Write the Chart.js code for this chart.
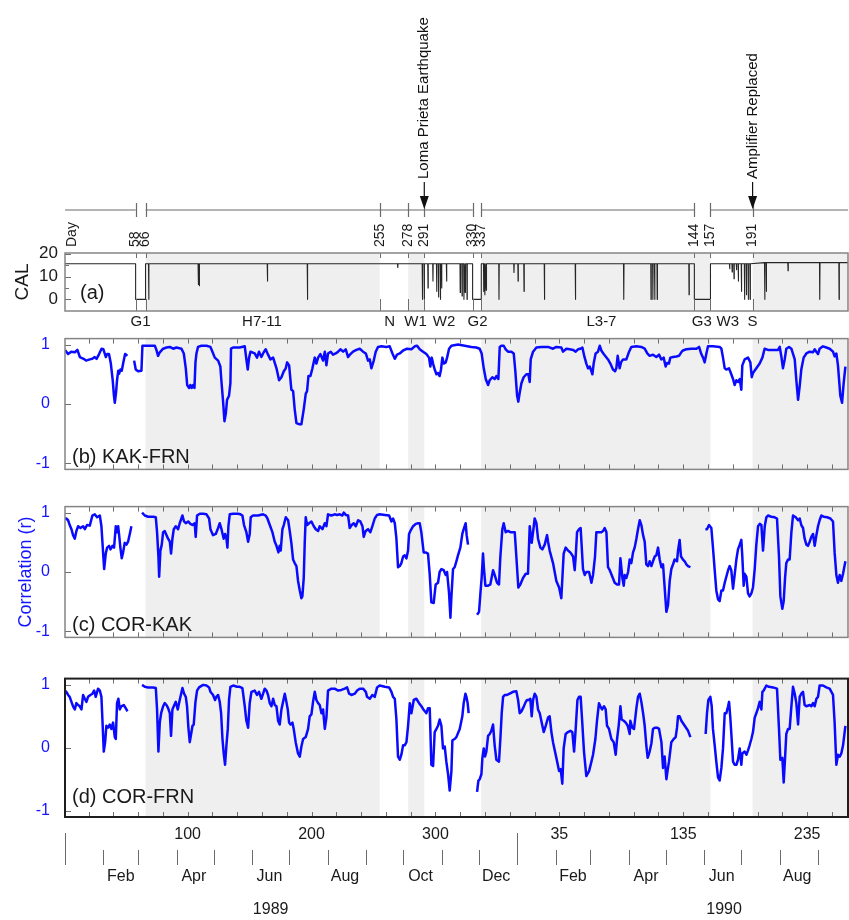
<!DOCTYPE html>
<html>
<head>
<meta charset="utf-8">
<title>Station correlation 1989-1990</title>
<script src="https://cdn.jsdelivr.net/npm/chart.js@4.4.1/dist/chart.umd.min.js"></script>
<style>
  html, body { margin: 0; padding: 0; background: #fff; }
  #wrap { position: relative; width: 849px; height: 920px; overflow: hidden; }
  #wrap canvas { position: absolute; left: 0; }
</style>
</head>
<body>
<div id="wrap">
  <canvas id="calChart" width="849" height="340" style="top:0"></canvas>
  <canvas id="kfChart" width="849" height="180" style="top:314px"></canvas>
  <canvas id="ckChart" width="849" height="180" style="top:482px"></canvas>
  <canvas id="cfChart" width="849" height="266" style="top:654px"></canvas>
</div>
<script>
// days are counted from 1 Jan 1989 (1990 day d = 365 + d)

/* ---------------- DATA ---------------- */
const markerDays = [58, 66, 255, 278, 291, 330, 337, 509, 522, 556];
const markerLabels = ["58", "66", "255", "278", "291", "330", "337", "144", "157", "191"];
const timelineSegs = [[1, 58], [66, 330], [337, 509], [522, 633]];
const eventDays = [291, 556];
const eventLabels = ["Loma Prieta Earthquake", "Amplifier Replaced"];
const groupDays = [62, 160, 263, 284, 307, 334, 434, 515, 536, 556];
const groupLabels = ["G1", "H7-11", "N", "W1", "W2", "G2", "L3-7", "G3", "W3", "S"];
const shadeRanges = [[66, 255], [278, 291], [337, 522], [556, 633]];

const dayTickDays = [100, 200, 300, 400, 500, 600];
const dayTickLabels = ["100", "200", "300", "35", "135", "235"];
const yearStarts = [1, 366];
const monthStarts = [32, 60, 91, 121, 152, 182, 213, 244, 274, 305, 335, 397, 425, 456, 486, 517, 547, 578, 609];
const monthLabelDays = [46, 105, 166, 227, 288, 349, 411, 470, 531, 592];
const monthLabels = ["Feb", "Apr", "Jun", "Aug", "Oct", "Dec", "Feb", "Apr", "Jun", "Aug"];
const yearLabelDays = [167, 533];
const yearLabels = ["1989", "1990"];

const calTicks = [0, 10, 20];
const corrTicks = [-1, 0, 1];

// CAL: flat level, dropouts to zero during gaps, and short downward spikes [day, min]
const calLevel = 15.6;
const calLevelAfterS = 16.1;
const calGaps = [[58, 66], [330, 337], [509, 522]];
const calSpikes = [[68.6,0],[108.6,6.5],[109.4,6],[164.4,8],[196.7,0],[269.6,14],[289.5,0],[291,0],
  [294,5],[298,8],[301,3.5],[302.5,1],[304,0],[305,5],[309,8],[320,3],[321.5,1.5],[323,0],[324,3],
  [325.5,0],[339,3.5],[340,2],[341,4],[351.3,0],[363.4,11.8],[366.7,8],[371.5,3.5],[388,0],[413,0],
  [452,0],[474,0],[475.5,0],[477,0],[479,0],[504.7,2],[537.5,13.4],[539.5,12],[541,9],[543,13],
  [544.5,8],[547,3.5],[549.5,0],[551,2],[552.5,0],[554,0],[565.8,0],[567.1,3.5],[584.6,12.5],
  [610.2,0],[625.8,0]];

// (b) KAK-FRN correlation [day, r]
const kakFrn = [[1,0.91],[3.5,0.84],[6,0.88],[9,0.87],[11,0.91],[13,0.79],[16,0.76],[18,0.73],[21,0.75],
  [23,0.76],[25,0.79],[26.5,0.76],[28.5,0.84],[30.5,0.93],[32,0.92],[34,0.79],[35,0.84],[36.5,0.84],
  [38,0.68],[39.5,0.40],[40.5,0.14],[41.2,0.02],[42.2,0.19],[43,0.40],[44,0.56],[44.7,0.51],[45.7,0.58],
  [46.8,0.56],[48,0.69],[49.5,0.84],[51.4,0.81],[54,null],
  [56.8,0.73],[58.1,0.58],[60,0.55],[62.7,0.56],[63.5,0.98],[66.7,0.98],[73.5,0.98],[74.8,0.91],
  [76.1,0.81],[77.5,0.87],[80.2,0.93],[82.9,0.95],[85.6,0.96],[88.3,0.93],[90.9,0.95],[95,0.93],
  [96.9,0.85],[98.5,0.60],[99.6,0.32],[101.2,0.27],[102.2,0.32],[103.3,0.27],[104.4,0.32],[105.5,0.27],
  [106.3,0.70],[107.1,0.85],[108.4,0.96],[111.1,0.98],[115.2,0.98],[118.4,0.96],[120,0.88],[121.9,0.78],
  [124.6,0.73],[126.4,0.63],[127.2,0.40],[128.6,0.04],[129.7,-0.29],[130.8,-0.16],[131.8,0.07],
  [133.4,0.14],[134.5,0.35],[135,0.93],[136.7,0.95],[142,0.95],[146.1,0.97],[147.4,0.75],[148.5,0.58],
  [149.6,0.78],[150.7,0.88],[154.1,0.85],[156,0.78],[157.6,0.88],[159.5,0.79],[161.4,0.87],[163,0.92],
  [164.9,0.83],[166.8,0.75],[169,0.78],[171.7,0.60],[173.8,0.40],[175.7,0.45],[177.6,0.55],[179.2,0.60],
  [180.3,0.70],[181.9,0.65],[183.7,0.24],[185.1,0.22],[186.4,-0.09],[187.8,-0.32],[189.9,-0.34],
  [191.8,-0.34],[193.7,-0.09],[195.3,0.17],[196.4,0.22],[197.5,0.47],[199.1,0.47],[200.7,0.60],
  [202.6,0.78],[203.9,0.68],[205.3,0.78],[207.1,0.84],[209.3,0.73],[210.7,0.88],[212,0.65],[213.3,0.85],
  [215.5,0.88],[217.4,0.83],[219.5,0.85],[221.4,0.88],[223.3,0.92],[225.5,0.88],[227.6,0.92],[229.5,0.79],
  [231.4,0.84],[233.5,0.88],[236.2,0.91],[238.9,0.93],[241.6,0.88],[243.8,0.85],[245.6,0.73],[247,0.75],
  [248.3,0.60],[250.2,0.73],[251.8,0.88],[253.7,0.96],[256.4,0.97],[260.4,0.96],[263.1,0.97],[265.3,0.85],
  [267.2,0.76],[269,0.83],[271.2,0.85],[273.9,0.90],[277.1,0.93],[280.6,0.92],[283.3,0.97],[285.2,0.98],
  [287.3,0.92],[290,0.88],[292.7,0.84],[294.8,0.78],[295.9,0.63],[297,0.78],[298.1,0.68],[299.4,0.58],
  [300.8,0.50],[302.1,0.52],[303.4,0.47],[304.5,0.58],[305.6,0.78],[306.7,0.68],[308.3,0.70],[309.4,0.78],
  [311,0.93],[312.9,0.98],[318.2,1.00],[323.6,0.98],[329,0.96],[333,0.95],[335.7,0.93],[337.3,0.85],
  [339,0.60],[340.6,0.42],[342.5,0.32],[343.8,0.40],[345.9,0.45],[347.8,0.42],[349.2,0.47],[350.8,0.42],
  [351.9,0.96],[353.2,0.98],[355.1,0.98],[356.7,0.92],[358.6,0.88],[361.3,0.88],[363.2,0.85],[364.5,0.55],
  [365.9,0.14],[366.9,0.04],[368,0.19],[369.4,0.35],[371.2,0.45],[373.4,0.50],[375,0.50],[376.1,0.37],
  [376.9,0.75],[378.8,0.88],[381.5,0.95],[385.5,0.96],[390.9,0.96],[394.9,0.93],[397.6,0.96],[401.6,0.95],
  [403,0.88],[405.7,0.93],[408.4,0.92],[411.1,0.91],[413.2,0.88],[415.1,0.92],[417,0.93],[418.6,0.95],
  [420.2,0.80],[421.8,0.68],[423.2,0.60],[424.5,0.63],[425.9,0.55],[426.7,0.50],[427.7,0.68],[429.3,0.85],
  [431.2,0.88],[432.6,0.98],[433.9,0.90],[435.8,0.84],[437.4,0.80],[439.3,0.75],[441.2,0.68],[443.3,0.58],
  [445,0.55],[446,0.60],[447.1,0.81],[448.7,0.60],[449.8,0.70],[451.4,0.75],[454.1,0.75],[456.3,0.88],
  [458.1,0.96],[462.2,0.97],[466.2,0.96],[468.9,0.93],[471,0.85],[472.9,0.81],[475.6,0.83],[478.3,0.79],
  [480.5,0.83],[482.3,0.75],[484.2,0.78],[485.8,0.63],[486.9,0.69],[488.5,0.68],[489.6,0.78],[491.8,0.79],
  [494.5,0.80],[496.6,0.81],[498.8,0.88],[499.8,0.90],[502.5,0.92],[506.6,0.93],[510.6,0.93],[512.8,0.96],
  [514.6,0.84],[516,0.78],[517.3,0.70],[518.7,0.85],[520,0.97],[524,0.97],[529.4,0.96],[530.8,0.93],
  [532.1,0.78],[533.5,0.60],[534.8,0.58],[537,0.60],[538.8,0.50],[540.2,0.42],[541.5,0.32],[542.9,0.40],
  [544.2,0.37],[545.6,0.42],[546.9,0.24],[547.7,0.65],[549.6,0.75],[552.3,0.78],[554.2,0.70],[555.3,0.45],
  [556.3,0.52],[559,0.60],[561.7,0.68],[563.9,0.78],[565.7,0.93],[568.4,0.91],[572.5,0.91],[576.5,0.91],
  [577.9,0.96],[579.2,0.80],[580.5,0.60],[581.9,0.75],[583.2,0.93],[585.4,0.96],[587.3,0.93],[590,0.75],
  [591.3,0.40],[592.7,0.07],[594,0.30],[595.3,0.58],[597.2,0.78],[599.4,0.85],[602.1,0.88],[604.8,0.87],
  [606.1,0.92],[607.4,0.88],[608.8,0.84],[610.1,0.93],[612.8,0.97],[615.5,0.95],[618.2,0.93],[620.9,0.88],
  [622.2,0.80],[623.6,0.85],[624.9,0.65],[626.8,0.14],[628.2,0.02],[629.5,0.35],[630.9,0.63]];

// (c) COR-KAK correlation [day, r]
const corKak = [[1,0.90],[2,0.90],[3.5,0.87],[4.8,0.79],[6.2,0.72],[7.5,0.62],[8.9,0.56],[10.2,0.69],
  [11.6,0.77],[13.5,0.74],[15.6,0.77],[17,0.72],[18.8,0.79],[21,0.78],[23.1,0.95],[25,0.97],[26.9,0.92],
  [29.1,0.95],[30.4,0.77],[31.8,0.31],[32.6,0.05],[33.9,0.31],[35,0.41],[36.6,0.44],[37.7,0.38],
  [39.3,0.44],[40.6,0.41],[42,0.77],[43,0.67],[43.9,0.77],[44.7,0.62],[45.7,0.41],[46.8,0.23],[47.9,0.33],
  [49.2,0.49],[50.6,0.46],[51.9,0.51],[53.3,0.64],[54.6,0.77],[58,null],
  [63.2,1.00],[65.4,0.95],[68.1,0.93],[72.1,0.93],[74.3,0.92],[75.3,0.67],[76.4,0.26],[77,-0.08],
  [78,0.36],[79.1,0.46],[80.2,0.67],[81.5,0.69],[82.9,0.62],[84.2,0.56],[85.6,0.51],[86.6,0.31],
  [87.7,0.56],[88.8,0.72],[90.4,0.77],[92.3,0.72],[93.6,0.82],[95.8,0.95],[97.1,0.85],[98.5,0.82],
  [100.4,0.85],[102.2,0.81],[103.9,0.79],[105.7,0.82],[106.5,0.59],[107.6,0.95],[109.8,0.98],[112.5,0.98],
  [115.2,0.97],[117.3,0.90],[118.4,0.72],[120.5,0.62],[122.7,0.64],[124.6,0.74],[125.9,0.82],[127.3,0.72],
  [129.1,0.56],[130.2,0.64],[131.3,0.56],[132.1,0.41],[132.9,0.77],[134,0.97],[136.7,0.98],[140.7,0.98],
  [142.6,0.97],[144.2,0.95],[145.5,0.79],[147.4,0.67],[148.8,0.51],[150.1,0.64],[150.9,0.92],[152.8,0.95],
  [156.9,0.95],[160.9,0.97],[163,0.95],[164.4,0.90],[166.3,0.79],[168.4,0.67],[170.3,0.51],[171.7,0.44],
  [173.3,0.33],[174.3,0.44],[175.1,0.36],[176.5,0.72],[177.6,0.79],[179.2,0.92],[181.1,0.87],[182.4,0.69],
  [183.7,0.49],[185.1,0.21],[186.4,0.15],[187.8,0.10],[189.1,-0.15],[190.5,-0.31],[191.8,-0.44],
  [192.6,-0.41],[193.7,-0.10],[194.5,0.49],[195.3,0.92],[196.4,0.79],[198,0.82],[199.9,0.85],[201.8,0.77],
  [203.4,0.72],[205.3,0.69],[206.6,0.77],[208.8,0.72],[210.7,0.82],[212,0.77],[213.3,0.97],[216,0.95],
  [218.7,0.97],[220.6,0.96],[222.8,0.97],[224.9,0.95],[226,1.00],[227.6,0.96],[229.5,0.95],[230.8,0.74],
  [232.4,0.79],[234.1,0.82],[235.7,0.77],[237.6,0.87],[239.4,0.85],[241.1,0.77],[242.1,0.59],[243.7,0.69],
  [245.6,0.72],[247.5,0.67],[249.1,0.77],[251,0.90],[252.9,0.96],[255,0.97],[259.1,0.96],[262.6,0.95],
  [264.5,0.85],[265.8,0.90],[267.2,0.82],[268.5,0.56],[269.8,0.08],[271.2,0.10],[272.5,0.15],[273.9,0.26],
  [275.2,0.28],[276.6,0.23],[277.9,0.36],[278.7,0.64],[279.8,0.69],[282,0.77],[284.1,0.81],[286,0.82],
  [287.3,0.82],[288.6,0.67],[290.5,0.33],[292.1,0.33],[294,0.31],[295.4,-0.05],[296.7,-0.51],[298.6,-0.52],
  [300.2,-0.21],[302.1,-0.18],[303.4,0.00],[304.8,0.05],[306.7,0.03],[308.3,-0.05],[309.4,0.00],
  [311,-0.36],[312.1,-0.77],[312.9,-0.41],[314.2,0.05],[315.5,0.08],[316.9,0.18],[318.2,0.28],[320.1,0.41],
  [321.7,0.64],[322.8,0.72],[324.4,0.82],[325.2,0.62],[326.3,0.46],[330,null],
  [333.6,-0.72],[335.2,-0.67],[336.3,-0.36],[337.3,-0.10],[338.4,0.31],[339.2,0.05],[340.3,-0.23],
  [342.5,-0.23],[344.3,-0.21],[346.5,0.03],[347.8,-0.05],[349.7,-0.18],[351.3,-0.21],[352.4,0.26],
  [354,0.72],[355.1,0.82],[356.7,0.67],[358.6,0.69],[360.5,0.67],[364,0.67],[365.3,0.26],[366.9,-0.26],
  [368.5,-0.21],[370.7,-0.10],[372.9,-0.03],[374.7,-0.03],[376.1,0.77],[377.7,0.49],[378.8,0.67],
  [380.1,0.90],[381.5,0.82],[382.8,0.56],[384.7,0.41],[386.3,0.38],[388.2,0.46],[390.1,0.62],[390.9,0.51],
  [392.2,0.36],[394.9,0.15],[397.6,-0.15],[399.8,-0.26],[401.6,-0.44],[403.5,0.31],[405.1,0.41],[407,0.36],
  [408.9,0.33],[411.1,0.26],[412.4,0.03],[413.2,0.26],[414.3,0.67],[415.9,0.72],[417.2,0.74],[419.1,0.05],
  [420.5,-0.05],[421.8,0.00],[424,0.00],[425.9,-0.18],[427.2,-0.05],[428.8,0.26],[429.9,0.67],[432,0.67],
  [433.9,0.67],[435.3,0.69],[436.6,0.74],[438,0.67],[439.3,0.08],[440.7,0.03],[442.8,-0.08],[444.7,-0.18],
  [446.6,-0.21],[448.2,-0.21],[449.3,0.23],[450.9,-0.10],[452,-0.23],[452.8,-0.05],[454.1,-0.10],
  [455.5,0.00],[456.8,0.21],[458.1,0.15],[459.5,0.33],[460.8,0.41],[462.2,0.56],[463.5,0.72],[464.9,0.87],
  [466.2,0.79],[467.6,0.62],[468.9,0.51],[470.2,0.13],[471.6,0.10],[472.9,0.18],[474.3,0.10],[475.6,0.18],
  [477,0.26],[478.3,0.28],[479.7,0.41],[481,0.21],[482.4,0.08],[483.7,0.13],[485,-0.26],[486.4,-0.67],
  [487.7,-0.56],[489.1,-0.15],[490.4,0.05],[491.8,0.13],[493.1,0.21],[495,0.18],[495.8,0.36],[497.1,0.54],
  [498.2,0.26],[499.8,0.21],[501.2,0.18],[502.5,0.13],[503.9,0.10],[505.8,0.08],[512,null],
  [517.9,0.72],[519.2,0.72],[520.8,0.79],[522.7,0.74],[524,0.41],[525.4,0.03],[526.7,-0.31],[528.1,-0.46],
  [529.4,-0.49],[530.8,-0.31],[532.1,-0.31],[533.5,-0.18],[534.8,-0.08],[536.2,0.03],[537.5,0.10],
  [538.8,0.03],[540.2,-0.28],[541.5,-0.05],[542.9,0.21],[544.2,0.38],[545.6,0.46],[546.9,0.54],[547.7,0.26],
  [548.8,-0.23],[549.6,-0.03],[551,-0.08],[552.3,-0.36],[553.6,-0.41],[555,-0.36],[556.3,-0.26],
  [557.7,0.05],[559,0.46],[560.4,0.77],[561.7,0.81],[563.1,0.79],[564.4,0.36],[565.8,0.77],[567.1,0.92],
  [568.4,0.95],[571.1,0.93],[573.8,0.92],[575.7,0.90],[577.3,0.26],[578.4,-0.41],[580,-0.62],[581.1,-0.49],
  [582.2,-0.10],[583.2,0.15],[584.6,0.21],[585.9,0.21],[587.3,0.67],[588.6,0.95],[590.8,0.92],[592.7,0.87],
  [594,0.90],[595.3,0.79],[596.7,0.74],[598,0.56],[599.4,0.46],[600.7,0.44],[602.1,0.51],[603.4,0.59],
  [604.8,0.64],[606.1,0.44],[607.5,0.62],[608.8,0.77],[610.1,0.87],[611.5,0.95],[613.4,0.93],[616.1,0.92],
  [618.8,0.90],[620.9,0.85],[622.2,0.33],[623.6,-0.05],[624.9,-0.18],[626.3,-0.05],[627.6,-0.15],
  [629,-0.03],[630.9,0.18]];

// (d) COR-FRN correlation [day, r]
const corFrn = [[1,0.91],[2.1,0.89],[3.5,0.84],[4.8,0.81],[6.2,0.73],[7.5,0.66],[8.9,0.61],[10.2,0.71],
  [11.6,0.68],[12.9,0.66],[14.3,0.61],[15.6,0.84],[17,0.78],[18.3,0.73],[19.6,0.81],[21.5,0.84],[23.1,0.86],
  [24.5,0.91],[25.8,0.81],[27.7,0.94],[29.1,0.91],[30.4,0.81],[31.2,0.45],[32.3,-0.06],[33.4,0.09],
  [34.4,0.35],[35.8,0.32],[37.1,0.37],[38.5,0.30],[39.8,0.40],[41.2,0.17],[42,0.14],[43,0.71],[44.1,0.78],
  [45.2,0.61],[46.5,0.66],[48.4,0.68],[50.6,0.61],[51.4,0.58],[57,null],
  [63.2,1.00],[65.4,0.97],[68.1,0.96],[72.1,0.96],[74.3,0.95],[75.3,0.61],[76.4,-0.06],[77.5,0.40],
  [78.6,0.55],[80.2,0.66],[81.5,0.71],[82.9,0.68],[84.2,0.63],[85.6,0.55],[86.6,0.19],[87.7,0.61],
  [88.8,0.66],[90.4,0.73],[92,0.61],[93.6,0.76],[95.8,0.95],[97.1,0.86],[98.5,0.81],[99.5,0.66],
  [100.6,0.32],[101.7,0.09],[102.8,0.22],[103.9,0.35],[104.9,0.37],[106.3,0.73],[107.6,0.91],[109.2,0.96],
  [112.5,1.00],[115.2,0.99],[117.3,0.96],[118.4,0.89],[120.5,0.84],[122.1,0.76],[123.2,0.81],[124.6,0.84],
  [125.9,0.73],[127,0.55],[128.1,0.14],[129.1,-0.09],[130.2,-0.27],[131.3,0.04],[132.4,0.30],[133.4,0.76],
  [134.5,0.97],[136.7,0.99],[139.9,0.97],[142,0.97],[144.2,0.95],[146.1,0.66],[147.4,0.43],[148.8,0.32],
  [150.1,0.71],[151.5,0.89],[154.1,0.91],[156,0.84],[157.6,0.89],[159.5,0.78],[160.9,0.86],[162.2,0.94],
  [163.6,0.91],[164.9,0.84],[166.3,0.71],[167.6,0.66],[169,0.78],[170.3,0.68],[171.7,0.66],[173,0.43],
  [174.3,0.37],[175.7,0.61],[177,0.73],[178.4,0.86],[179.7,0.73],[180.8,0.61],[181.9,0.40],[183,0.37],
  [184.6,0.40],[185.6,0.30],[187.2,0.09],[189.1,-0.09],[190.5,-0.14],[191.8,0.02],[193.2,0.14],[195.3,0.17],
  [197.2,0.30],[198.5,0.50],[199.9,0.53],[201.2,0.73],[202.6,0.89],[203.9,0.76],[205.3,0.71],[206.6,0.68],
  [208,0.55],[209.3,0.61],[210.7,0.30],[212,0.48],[213.3,0.91],[216,0.94],[218.7,0.94],[221.4,0.91],
  [224.1,0.92],[226.8,0.94],[228.7,0.96],[230.3,0.86],[232.2,0.84],[234.9,0.86],[236.8,0.91],[238.9,0.94],
  [241.6,0.94],[243.8,0.89],[244.8,0.81],[247,0.78],[249.1,0.84],[251,0.81],[252.9,0.96],[255,0.99],
  [259.1,0.97],[262.6,0.96],[264.5,0.89],[265.8,0.81],[267.2,0.78],[268.5,0.45],[269.8,-0.14],
  [271.2,-0.19],[272.5,-0.11],[273.9,0.04],[275.2,0.04],[276.6,0.09],[277.9,0.35],[279.3,0.71],[280.6,0.55],
  [282.5,0.76],[284.6,0.78],[286.8,0.71],[288.7,0.66],[290.6,0.60],[292.7,0.55],[294,0.63],[295.4,0.63],
  [296.7,-0.27],[298.1,-0.29],[299.4,0.25],[300.8,0.30],[302.1,0.35],[303.4,0.45],[304.8,0.35],
  [306.1,-0.01],[307.5,0.02],[308.8,-0.22],[310.2,-0.42],[311.5,-0.68],[312.9,-0.37],[313.7,0.12],
  [315.5,0.14],[316.9,0.17],[319.6,0.30],[321.7,0.50],[322.8,0.71],[324.2,0.86],[325,0.81],[326,0.71],
  [326.8,0.55],[330,null],
  [333.6,-0.70],[334.7,-0.52],[335.7,-0.50],[337.1,-0.42],[337.9,-0.16],[339,-0.01],[340,-0.14],
  [341.1,-0.06],[342.5,0.19],[343.8,0.22],[345.1,0.27],[346.5,0.37],[347.8,0.04],[349.2,-0.19],
  [351.3,-0.22],[352.4,0.14],[353.5,0.55],[354.6,0.81],[355.9,0.84],[357.8,0.84],[359.9,0.86],[362.6,0.89],
  [365.3,0.90],[366.7,0.76],[368,0.55],[369.4,0.58],[370.7,0.63],[372.9,0.73],[373.9,0.76],[375.5,0.76],
  [376.6,0.78],[377.7,0.50],[378.8,0.76],[380.1,0.86],[381.5,0.81],[382.8,0.61],[384.2,0.55],[385.8,0.40],
  [387.4,0.25],[389,0.35],[390.9,0.48],[392.2,0.50],[393.6,0.25],[394.9,0.09],[397.6,-0.16],[399.8,-0.37],
  [401.1,-0.34],[402.4,-0.57],[403.5,-0.01],[405.1,0.22],[407,0.25],[408.9,0.27],[410.5,0.25],
  [411.9,-0.06],[413.2,0.30],[414.6,0.76],[415.9,0.81],[417.2,0.81],[418.6,0.37],[419.9,-0.06],
  [421.8,-0.45],[424,-0.37],[425.9,-0.22],[427.2,-0.11],[429.1,0.14],[430.4,0.43],[432,0.71],[433.1,0.66],
  [434.5,0.61],[436.1,0.66],[437.4,0.61],[438.5,0.35],[440.1,0.30],[442,0.14],[443.9,0.09],[445.5,-0.11],
  [446.6,0.14],[447.9,0.35],[449.3,0.66],[450.3,0.45],[452,0.43],[453.6,0.40],[455.2,0.35],[456.8,0.22],
  [457.3,0.43],[458.9,0.32],[460.3,0.30],[462.2,0.63],[463.5,0.81],[464.9,0.86],[466.2,0.73],[467.6,0.55],
  [468.9,0.35],[470.2,0.04],[471.3,-0.16],[472.9,-0.06],[474.3,0.07],[475.6,0.30],[477,0.32],[478.9,0.32],
  [480.5,0.30],[482.4,0.09],[483.7,-0.32],[485,-0.14],[486.4,-0.50],[487.7,-0.32],[488.5,-0.22],
  [490.4,0.09],[492.3,0.14],[493.9,0.17],[495,0.32],[495.8,0.50],[497.1,0.50],[498.5,0.43],[501.2,0.35],
  [503.9,0.27],[505.8,0.17],[512,null],
  [518.1,0.22],[519.2,0.55],[520.3,0.76],[521.9,0.81],[523,0.66],[524,0.30],[525.4,0.04],[526.7,-0.22],
  [528.1,-0.47],[529.4,-0.52],[530.8,-0.32],[532.1,-0.01],[533.5,0.55],[534.8,0.55],[536.2,0.66],[537,0.73],
  [538,0.48],[539.1,0.14],[540.2,-0.22],[541.5,-0.27],[542.9,-0.27],[544.2,-0.19],[545.6,-0.01],
  [546.9,-0.27],[547.7,-0.09],[549.6,-0.06],[551,-0.11],[552.3,-0.04],[553.6,0.04],[555,0.14],[556.3,0.25],
  [557.7,0.48],[559,0.55],[560.4,0.63],[561.7,0.73],[563.1,0.61],[563.9,0.89],[564.9,0.91],[567.1,0.99],
  [569.2,0.97],[572.5,0.96],[575.7,0.94],[577.3,0.30],[578.4,-0.19],[580,-0.16],[581.1,-0.55],[582.2,-0.16],
  [583.2,0.22],[584.6,0.30],[585.9,0.30],[587.3,0.66],[588.6,0.97],[590,0.86],[591.3,0.71],[592.7,0.37],
  [594,0.81],[595.3,0.86],[596.7,0.89],[598,0.68],[599.4,0.66],[602.1,0.68],[603.4,0.66],[604.8,0.71],
  [606.1,0.66],[607.5,0.78],[608.8,0.81],[610.1,0.99],[612.8,0.99],[615.5,0.96],[618.2,0.94],[620.9,0.84],
  [622.2,0.40],[623.6,-0.27],[624.9,-0.11],[626.3,-0.14],[627.6,-0.09],[629,0.04],[630.9,0.35]];

/* ---------------- STYLE ---------------- */
const FONT = "'Liberation Sans', Arial, Helvetica, sans-serif";
const INK = "#1a1a1a";
const BLUE = "#1515ff";
const TRACE = "#0a0aff";
const SHADE = "#efefef";
const X_MIN = 1, X_MAX = 633;

Chart.defaults.font.family = FONT;
Chart.defaults.color = INK;

/* ---------------- HELPERS ---------------- */
function toPoints(pairs) {
  return pairs.map(([x, y]) => ({x, y}));
}

function levelAt(t) {
  return t < 556 ? calLevel : calLevelAfterS;
}

function buildCal() {
  const events = [];
  calGaps.forEach(([a, b]) => events.push({t: a, pts: [[a, levelAt(a)], [a, 0], [b, 0], [b, levelAt(b)]]}));
  calSpikes.forEach(([t, v]) => events.push({t, pts: [[t - 0.2, levelAt(t)], [t, v], [t + 0.2, levelAt(t)]]}));
  events.sort((p, q) => p.t - q.t);
  const pts = [{x: X_MIN, y: levelAt(X_MIN)}];
  events.forEach(e => e.pts.forEach(([x, y]) => pts.push({x, y})));
  pts.push({x: X_MAX, y: levelAt(X_MAX)});
  return pts;
}

function panelTickDays() {
  const out = [];
  for (let d = 20; d < X_MAX; d += 20) out.push(d);
  return out;
}

function hiddenX() {
  return {type: "linear", min: X_MIN, max: X_MAX, display: false};
}

function corrAxis(title) {
  const ax = {
    min: -1.1, max: 1.1,
    grid: {display: false, drawTicks: false},
    border: {display: false},
    afterBuildTicks: s => { s.ticks = corrTicks.map(v => ({value: v})); },
    afterFit: s => { s.width = 65; },
    ticks: {color: BLUE, font: {size: 16}, padding: 15}
  };
  if (title) {
    ax.title = {display: true, text: title, color: BLUE, font: {size: 18}, padding: {top: 15, bottom: 0}};
  }
  return ax;
}

function lineSet(points, color, width) {
  return {
    data: points, borderColor: color, borderWidth: width,
    pointRadius: 0, tension: 0, spanGaps: false, borderJoinStyle: "round"
  };
}

/* ---------------- DRAWING PLUGINS ---------------- */
function shadeGaps(chart) {
  const {ctx, chartArea: a, scales: {x}} = chart;
  ctx.save();
  ctx.fillStyle = SHADE;
  shadeRanges.forEach(([s, e]) => {
    const x0 = x.getPixelForValue(s), x1 = x.getPixelForValue(e);
    ctx.fillRect(x0, a.top, x1 - x0, a.bottom - a.top);
  });
  ctx.restore();
}

function drawFrame(chart, o) {
  const {ctx, chartArea: a, scales: {x, y}} = chart;
  ctx.save();
  ctx.strokeStyle = "#6e6e6e";
  ctx.lineWidth = 1;
  ctx.beginPath();
  o.xTicks.forEach(d => {
    const px = Math.round(x.getPixelForValue(d)) + 0.5;
    ctx.moveTo(px, a.bottom); ctx.lineTo(px, a.bottom - o.tickBottom);
    ctx.moveTo(px, a.top); ctx.lineTo(px, a.top + o.tickTop);
  });
  o.yTicks.forEach(v => {
    const py = Math.round(y.getPixelForValue(v)) + 0.5;
    ctx.moveTo(a.left, py); ctx.lineTo(a.left + 6, py);
  });
  (o.yMinor || []).forEach(v => {
    const py = Math.round(y.getPixelForValue(v)) + 0.5;
    ctx.moveTo(a.left, py); ctx.lineTo(a.left + 4, py);
  });
  ctx.stroke();

  ctx.strokeStyle = o.frameColor;
  ctx.lineWidth = o.frameWidth;
  ctx.strokeRect(a.left, a.top, a.right - a.left, a.bottom - a.top);

  ctx.fillStyle = INK;
  ctx.font = "20px " + FONT;
  ctx.textAlign = "left";
  ctx.textBaseline = "middle";
  ctx.fillText(o.label, a.left + o.labelDx, o.labelY);
  ctx.restore();
}

function panelDecor(o) {
  return {
    id: "decor_" + o.key,
    beforeDatasetsDraw(chart) { shadeGaps(chart); },
    afterDatasetsDraw(chart) { drawFrame(chart, o); },
    afterDraw(chart) { if (o.after) o.after(chart); }
  };
}

function rotatedText(ctx, text, px, py) {
  ctx.save();
  ctx.translate(px, py);
  ctx.rotate(-Math.PI / 2);
  ctx.fillText(text, 0, 0);
  ctx.restore();
}

function drawTimeline(chart) {
  const {ctx, chartArea: a, scales: {x}} = chart;
  const yLine = 210;
  ctx.save();
  ctx.strokeStyle = "#6a6a6a";
  ctx.lineWidth = 1.2;
  ctx.beginPath();
  timelineSegs.forEach(([s, e]) => {
    ctx.moveTo(x.getPixelForValue(s), yLine);
    ctx.lineTo(x.getPixelForValue(e), yLine);
  });
  markerDays.forEach(d => {
    const px = Math.round(x.getPixelForValue(d)) + 0.5;
    ctx.moveTo(px, 203); ctx.lineTo(px, 217);
  });
  ctx.stroke();

  ctx.fillStyle = INK;
  ctx.font = "14px " + FONT;
  ctx.textAlign = "left";
  ctx.textBaseline = "middle";
  rotatedText(ctx, "Day", a.left + 7, 247);
  markerDays.forEach((d, i) => rotatedText(ctx, markerLabels[i], x.getPixelForValue(d), 247));

  // event arrows
  ctx.strokeStyle = "#111";
  ctx.fillStyle = "#111";
  ctx.lineWidth = 1.2;
  ctx.font = "15px " + FONT;
  eventDays.forEach((d, i) => {
    const px = x.getPixelForValue(d);
    ctx.beginPath(); ctx.moveTo(px, 182); ctx.lineTo(px, 197); ctx.stroke();
    ctx.beginPath(); ctx.moveTo(px - 4.5, 196); ctx.lineTo(px + 4.5, 196); ctx.lineTo(px, 209); ctx.closePath(); ctx.fill();
    rotatedText(ctx, eventLabels[i], px, 179);
  });

  // group names below the CAL panel
  ctx.fillStyle = INK;
  ctx.textAlign = "center";
  groupDays.forEach((d, i) => ctx.fillText(groupLabels[i], x.getPixelForValue(d), 322));
  ctx.restore();
}

function drawDateAxis(chart) {
  const {ctx, chartArea: a, scales: {x}} = chart;
  const b = a.bottom;
  ctx.save();
  ctx.strokeStyle = "#6a6a6a";
  ctx.lineWidth = 1;
  ctx.beginPath();
  yearStarts.forEach(d => {
    const px = Math.round(x.getPixelForValue(d)) + 0.5;
    ctx.moveTo(px, b + 16); ctx.lineTo(px, b + 48);
  });
  monthStarts.forEach(d => {
    const px = Math.round(x.getPixelForValue(d)) + 0.5;
    ctx.moveTo(px, b + 33); ctx.lineTo(px, b + 48);
  });
  ctx.stroke();
  ctx.fillStyle = INK;
  ctx.font = "16px " + FONT;
  ctx.textAlign = "center";
  ctx.textBaseline = "middle";
  monthLabelDays.forEach((d, i) => ctx.fillText(monthLabels[i], x.getPixelForValue(d), b + 60));
  yearLabelDays.forEach((d, i) => ctx.fillText(yearLabels[i], x.getPixelForValue(d), b + 93));
  ctx.restore();
}

/* ---------------- CHARTS ---------------- */
const baseOptions = () => ({
  responsive: false,
  animation: false,
  events: [],
  plugins: {legend: {display: false}, tooltip: {enabled: false}}
});

function initCal() {
  const opts = baseOptions();
  opts.layout = {padding: {top: 253, bottom: 29, left: 0, right: 1}};
  opts.scales = {
    x: hiddenX(),
    y: {
      min: -5.1, max: 20.3,
      grid: {display: false, drawTicks: false},
      border: {display: false},
      afterBuildTicks: s => { s.ticks = calTicks.map(v => ({value: v})); },
      afterFit: s => { s.width = 65; },
      ticks: {color: INK, font: {size: 17}, padding: 7},
      title: {display: true, text: "CAL", color: INK, font: {size: 19}, padding: {top: 11, bottom: 0}}
    }
  };
  new Chart(calChart, {
    type: "line",
    data: {datasets: [lineSet(buildCal(), "#262626", 1.1)]},
    options: opts,
    plugins: [panelDecor({
      key: "cal", xTicks: markerDays, tickTop: 5, tickBottom: 12,
      yTicks: calTicks, yMinor: [5, 15],
      frameColor: "#858585", frameWidth: 1.5,
      label: "(a)", labelDx: 15, labelY: 293, after: drawTimeline
    })]
  });
}

function initCorr(canvas, pairs, label, o) {
  const opts = baseOptions();
  opts.layout = {padding: o.padding};
  opts.scales = {x: o.xAxis || hiddenX(), y: corrAxis(o.title)};
  new Chart(canvas, {
    type: "line",
    data: {datasets: [lineSet(toPoints(pairs), TRACE, 2.5)]},
    options: opts,
    plugins: [panelDecor({
      key: label, xTicks: panelTickDays(), tickTop: 5, tickBottom: 5,
      yTicks: corrTicks, frameColor: o.frameColor, frameWidth: o.frameWidth,
      label: label, labelDx: 7, labelY: 143, after: o.after
    })]
  });
}

function dateAxis() {
  return {
    type: "linear", min: X_MIN, max: X_MAX, position: "bottom",
    grid: {display: false, drawTicks: false},
    border: {display: false},
    afterBuildTicks: s => { s.ticks = dayTickDays.map(v => ({value: v})); },
    afterFit: s => { s.height = 103; },
    ticks: {
      padding: 8, font: {size: 16}, color: INK, maxRotation: 0, autoSkip: false,
      callback: v => dayTickLabels[dayTickDays.indexOf(v)]
    }
  };
}

initCal();
initCorr(kfChart, kakFrn, "(b) KAK-FRN", {
  padding: {top: 20, bottom: 16, left: 0, right: 1}, frameColor: "#858585", frameWidth: 1.5
});
initCorr(ckChart, corKak, "(c) COR-KAK", {
  padding: {top: 20, bottom: 18, left: 0, right: 1}, frameColor: "#858585", frameWidth: 1.5,
  title: "Correlation (r)"
});
initCorr(cfChart, corFrn, "(d) COR-FRN", {
  padding: {top: 20, bottom: 0, left: 0, right: 1}, frameColor: "#1e1e1e", frameWidth: 2,
  xAxis: dateAxis(), after: drawDateAxis
});
</script>
</body>
</html>
